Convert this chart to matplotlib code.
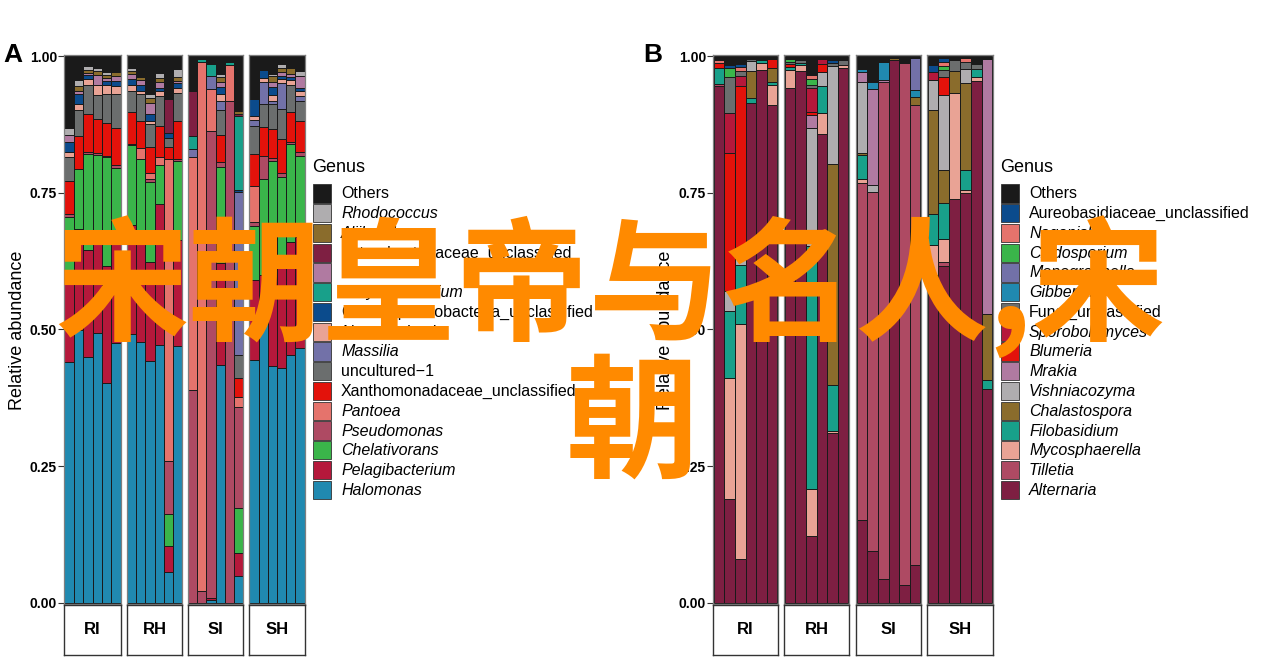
import matplotlib
matplotlib.use('Agg')
import matplotlib.pyplot as plt
import numpy as np
from matplotlib.patches import Rectangle

plt.rcParams['font.family'] = ['Liberation Sans', 'DejaVu Sans']

# 分组与样本（每组6个样本）
groups = ['RI', 'RH', 'SI', 'SH']

# ---------------- A: 细菌属水平相对丰度（顺序: RI1-6, RH1-6, SI1-6, SH1-6）
a_halomonas = [.44, .50, .45, .493, .403, .475, .492, .478, .442, .472, .057, .47,
               0, 0, .005, .435, 0, .049, .445, .517, .433, .429, .453, .466]
a_pelagibacterium = [.156, .184, .196, .185, .214, .185, .199, .182, .181, .258, .047, .193,
                     0, 0, .004, .186, 0, .042, .145, .083, .187, .201, .207, .204]
a_chelativorans = [.109, .109, .175, .141, .198, .136, .146, .152, .146, .07, .058, .146,
                   0, 0, 0, .176, 0, .082, .10, .175, .189, .148, .179, .148]
a_pseudomonas = [.006, 0, .003, .003, .003, .004, .003, 0, .006, 0, .097, .003,
                 .389, .021, .854, .01, .918, .186, .006, .043, .004, .009, .003, .006]
a_pantoea = [0, 0, 0, 0, 0, 0, 0, .02, .012, .015, .553, 0,
             .426, .969, .076, 0, .066, .018, .067, 0, 0, 0, 0, 0]
a_xanthomonadaceae = [.06, .06, .07, .063, .06, .068, .057, .05, .047, .057, .021, .07,
                      0, 0, 0, .049, 0, .034, .058, .052, .053, .061, .055, .058]
a_uncultured = [.044, .048, .054, .044, .052, .062, .039, .048, .041, .055, .018, .051,
                0, 0, 0, .046, 0, .042, .051, .043, .046, .055, .051, .036]
a_massilia = [0, 0, 0, 0, 0, 0, 0, 0, 0, 0, 0, 0,
              .015, 0, .025, .015, 0, .299, .012, .04, .006, .048, 0, .009]
a_nesterenkonia = [.01, .011, .011, .019, .018, .015, .011, .006, .007, .009, 0, .009,
                   0, 0, 0, .014, 0, 0, .007, .007, .01, .008, .009, .01]
a_gamma = [.017, .019, .006, 0, .006, .009, .012, .012, .013, .006, .008, .009,
           0, 0, 0, .013, 0, .003, .03, .014, .015, .004, .005, .005]
a_coryne = [0, 0, 0, 0, 0, 0, 0, 0, 0, 0, 0, 0,
            .024, .004, .022, 0, .006, .135, 0, 0, 0, 0, 0, 0]
a_nocardioides = [.013, .006, .004, .017, .006, .009, .008, .008, .02, .01, 0, .004,
                  0, 0, 0, .009, 0, 0, 0, 0, .01, .007, .006, .022]
a_entero = [0, 0, 0, 0, 0, 0, 0, 0, 0, 0, .062, 0,
            .082, 0, 0, 0, 0, .004, 0, 0, 0, 0, 0, 0]
a_aliihoeflea = [0, .009, .006, .008, .005, .007, .006, .006, .008, .008, 0, .007,
                 0, 0, 0, .009, 0, .006, 0, 0, .01, .009, .01, 0]
a_rhodococcus = [.013, .01, .007, .006, .006, 0, .006, 0, .007, .009, 0, .014,
                 0, 0, 0, .006, 0, 0, 0, 0, .004, .006, 0, .009]
a_others = [.132, .044, .018, .021, .029, .03, .021, .038, .07, .031, .079, .024,
            .064, .006, .014, .032, .01, .10, .079, .026, .033, .015, .022, .027]

# 图例顺序（自上而下），堆叠顺序与之相反
a_names = ['Others', 'Rhodococcus', 'Aliihoeflea', 'Enterobacteriaceae_unclassified',
           'Nocardioides', 'Corynebacterium', 'Gammaproteobacteria_unclassified',
           'Nesterenkonia', 'Massilia', 'uncultured\u22121', 'Xanthomonadaceae_unclassified',
           'Pantoea', 'Pseudomonas', 'Chelativorans', 'Pelagibacterium', 'Halomonas']
a_series = [a_others, a_rhodococcus, a_aliihoeflea, a_entero, a_nocardioides, a_coryne,
            a_gamma, a_nesterenkonia, a_massilia, a_uncultured, a_xanthomonadaceae,
            a_pantoea, a_pseudomonas, a_chelativorans, a_pelagibacterium, a_halomonas]
a_colors = ['#1a1a1a', '#afadaf', '#8a6c2c', '#7e1f42', '#b07aa1', '#18a08a', '#0b4b8c',
            '#e9a395', '#7271a8', '#6b6e6e', '#e3120b', '#e5736c', '#ae4a63', '#3ab54a',
            '#b5183b', '#2089b0']

# ---------------- B: 真菌属水平相对丰度
b_alternaria = [.945, .19, .081, .915, .974, .91, .942, .973, .122, .857, .31, .979,
                .152, .095, .043, .993, .032, .069, .60, .616, .738, .75, .955, .391]
b_tilletia = [.004, 0, 0, 0, 0, 0, 0, 0, 0, 0, 0, 0,
              .616, .657, .91, 0, .956, .841, 0, .008, 0, 0, 0, 0]
b_mycosphaerella = [0, .222, .429, 0, .013, .038, .032, .01, .087, .039, .004, .005,
                    .007, 0, 0, 0, 0, 0, .054, .041, .195, .006, .006, 0]
b_filobasidium = [.03, .122, .108, .009, .005, .004, .006, .004, .443, .049, .085, 0,
                  .044, 0, 0, 0, 0, 0, .058, .067, 0, .036, .015, .017]
b_chalastospora = [0, 0, 0, .049, 0, .027, 0, 0, 0, 0, .403, 0,
                   .003, 0, 0, .003, 0, .016, .189, .06, .04, .158, 0, .12]
b_vishniacozyma = [0, .036, .02, .018, 0, 0, 0, 0, .217, .025, .18, 0,
                   .131, .012, 0, 0, 0, 0, .056, .137, 0, .027, 0, 0]
b_mrakia = [0, 0, 0, 0, 0, 0, 0, 0, .024, 0, 0, 0,
            .018, .175, .004, 0, 0, 0, 0, 0, 0, 0, 0, .467]
b_blumeria = [.008, .253, .307, 0, 0, .015, .006, 0, .005, .015, 0, 0,
              0, 0, 0, 0, 0, 0, 0, .033, 0, 0, 0, 0]
b_sporobolomyces = [0, .073, .018, 0, 0, 0, 0, 0, .044, .009, 0, 0,
                    0, 0, 0, 0, 0, 0, .014, 0, 0, 0, 0, 0]
b_fungi = [0, .066, .01, .003, 0, 0, .003, .006, .006, 0, .006, .008,
           0, 0, 0, 0, 0, 0, 0, .012, .02, .013, .01, 0]
b_gibberella = [0, 0, 0, 0, 0, 0, 0, 0, 0, 0, 0, 0,
                .006, .014, .033, 0, 0, .012, 0, 0, 0, 0, 0, 0]
b_monographella = [0, 0, 0, 0, 0, 0, 0, 0, 0, 0, 0, 0,
                   0, 0, 0, 0, 0, .058, 0, 0, 0, 0, 0, 0]
b_cladosporium = [0, .016, 0, 0, 0, 0, .006, 0, .011, 0, 0, 0,
                  0, 0, 0, 0, 0, 0, 0, .008, 0, 0, 0, 0]
b_naganishia = [.005, 0, .007, 0, 0, 0, 0, 0, .006, 0, 0, 0,
                0, 0, 0, 0, 0, 0, 0, .008, 0, .006, 0, 0]
b_aureobasidiaceae = [0, .005, .005, 0, 0, 0, 0, 0, 0, 0, .004, 0,
                      0, 0, 0, 0, 0, 0, .013, .006, 0, 0, 0, 0]
b_others = [.008, .017, .015, .006, .008, .006, .005, .007, .035, .006, .008, .008,
            .023, .047, .01, .004, .012, .004, .016, .004, .007, .004, .014, .005]

b_names = ['Others', 'Aureobasidiaceae_unclassified', 'Naganishia', 'Cladosporium',
           'Monographella', 'Gibberella', 'Fungi_unclassified', 'Sporobolomyces',
           'Blumeria', 'Mrakia', 'Vishniacozyma', 'Chalastospora', 'Filobasidium',
           'Mycosphaerella', 'Tilletia', 'Alternaria']
b_series = [b_others, b_aureobasidiaceae, b_naganishia, b_cladosporium, b_monographella,
            b_gibberella, b_fungi, b_sporobolomyces, b_blumeria, b_mrakia, b_vishniacozyma,
            b_chalastospora, b_filobasidium, b_mycosphaerella, b_tilletia, b_alternaria]
b_colors = ['#1a1a1a', '#0b4b8c', '#e5736c', '#3ab54a', '#7271a8', '#2089b0', '#6b6e6e',
            '#b5183b', '#e3120b', '#b07aa1', '#afadaf', '#8a6c2c', '#18a08a', '#e9a395',
            '#ae4a63', '#7e1f42']

W, H = 1270, 663
fig = plt.figure(figsize=(12.7, 6.63), dpi=100)


def px_axes(x0, y0, x1, y1):
    return fig.add_axes([x0 / W, 1 - y1 / H, (x1 - x0) / W, (y1 - y0) / H])


def draw_panel(facets, series, colors):
    for gi, (x0, x1) in enumerate(facets):
        ax = px_axes(x0, 55, x1, 604)
        bottom = np.zeros(6)
        # 从图例最下方的属开始堆叠
        for vals, c in zip(series[::-1], colors[::-1]):
            v = np.array(vals[gi * 6:(gi + 1) * 6])
            idx = np.nonzero(v > 0)[0]
            if len(idx):
                ax.bar(idx, v[idx], bottom=bottom[idx], width=1.0, color=c,
                       edgecolor='#1a1a1a', linewidth=0.7)
            bottom = bottom + v
        ax.set_xlim(-0.55, 5.55)
        ax.set_ylim(-0.002, 1.002)
        ax.set_xticks([])
        for s in ax.spines.values():
            s.set_color('#7f7f7f')
            s.set_linewidth(0.9)
        if gi == 0:
            ax.set_yticks([0, 0.25, 0.5, 0.75, 1.0])
            ax.set_yticklabels(['0.00', '0.25', '0.50', '0.75', '1.00'],
                               fontsize=10, fontweight='bold')
            ax.tick_params(axis='y', length=4, width=0.8, color='#333333', pad=1)
        else:
            ax.set_yticks([])
        # 分面标签
        st = px_axes(x0, 605, x1, 655)
        st.set_xticks([])
        st.set_yticks([])
        for s in st.spines.values():
            s.set_color('#333333')
            s.set_linewidth(1.0)
        st.text(0.5, 0.5, groups[gi], ha='center', va='center', fontsize=12,
                fontweight='bold', transform=st.transAxes)


facets_a = [(64, 121), (127, 182), (188, 243), (249, 305)]
facets_b = [(713, 778), (784, 849), (856, 921), (927, 993)]
draw_panel(facets_a, a_series, a_colors)
draw_panel(facets_b, b_series, b_colors)

# 叠加层：图例、标题、水印
ov = fig.add_axes([0, 0, 1, 1], zorder=10)
ov.set_xlim(0, W)
ov.set_ylim(H, 0)
ov.axis('off')
ov.patch.set_alpha(0)


def draw_legend(x, names, colors):
    ov.text(x, 167, 'Genus', fontsize=13, va='center', ha='left')
    for i, (n, c) in enumerate(zip(names, colors)):
        yc = 193.5 + i * 19.75
        ov.add_patch(Rectangle((x + 0.5, yc - 9.2), 18, 18.4, facecolor=c,
                               edgecolor='#333333', linewidth=0.6))
        italic = not (n == 'Others' or n.startswith('uncultured') or 'unclassified' in n)
        ov.text(x + 29, yc + 0.5, n, fontsize=11.5, va='center', ha='left',
                style='italic' if italic else 'normal')


draw_legend(312, a_names, a_colors)
draw_legend(1000, b_names, b_colors)

ov.text(3, 55, 'A', fontsize=19, fontweight='bold', va='center', ha='left')
ov.text(643, 55, 'B', fontsize=19, fontweight='bold', va='center', ha='left')
ov.text(18, 330, 'Relative abundance', fontsize=13, rotation=90, va='center', ha='center')
ov.text(666, 330, 'Relative abundance', fontsize=13, rotation=90, va='center', ha='center')

# 水印文字
wm = '#ff8a00'
ov.text(610, 288, '宋朝皇帝与名人,宋', fontsize=96, color=wm, ha='center', va='center',
        family=['Noto Sans CJK SC', 'DejaVu Sans'], fontweight='bold')
ov.text(632, 428, '朝', fontsize=96, color=wm, ha='center', va='center',
        family=['Noto Sans CJK SC', 'DejaVu Sans'], fontweight='bold')

fig.savefig('out.png', dpi=100)
